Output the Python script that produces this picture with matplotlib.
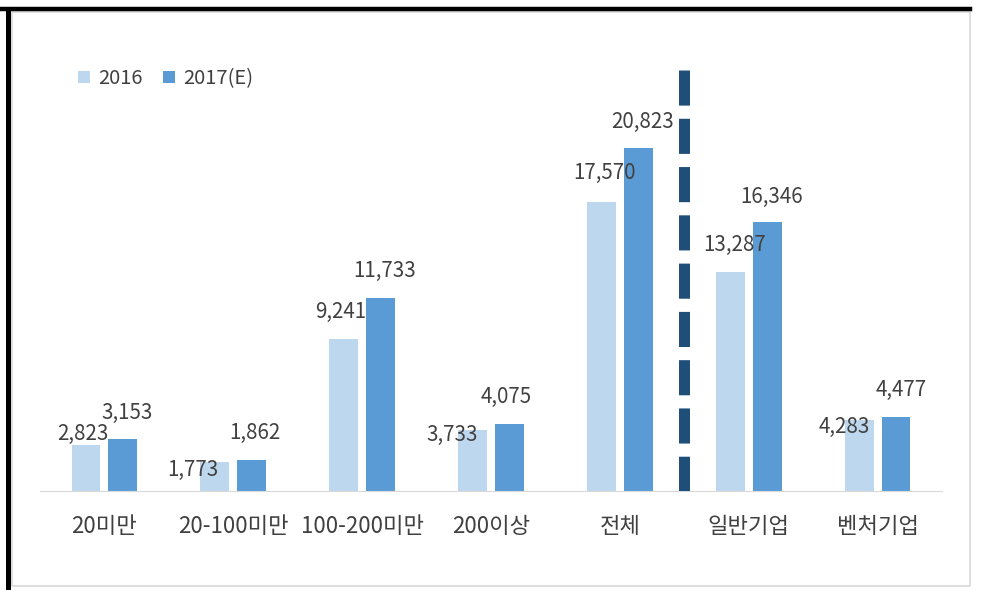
import matplotlib.pyplot as plt
from matplotlib.lines import Line2D
from matplotlib.patches import Rectangle
import numpy as np

plt.rcParams['font.family'] = ['Noto Sans CJK KR', 'DejaVu Sans']

categories = ["20미만", "20-100미만", "100-200미만", "200이상", "전체", "일반기업", "벤처기업"]
vals_2016 = [2823, 1773, 9241, 3733, 17570, 13287, 4283]
vals_2017 = [3153, 1862, 11733, 4075, 20823, 16346, 4477]
series = ["2016", "2017(E)"]

# label offsets in pixels (dx, dy) from bar top centre, hand tuned
off_2016 = [(-3, 11), (-22, -8), (-3, 27), (-20, -5), (3, 29), (4, 27), (-15, -6)]
off_2017 = [(4, 26), (3, 27), (4, 27), (-3, 27), (4, 26), (4, 25), (5, 27)]

c16 = "#BDD7EE"
c17 = "#5B9BD5"
txt = "#404040"

W, H = 985, 590
fig = plt.figure(figsize=(W / 100, H / 100), dpi=100)
ax = fig.add_axes([40 / W, (H - 491) / H, 902 / W, 431 / H])

x = np.arange(len(categories))
bw = 0.225
off = 0.143
ax.bar(x - off, vals_2016, bw, color=c16, label=series[0], zorder=2)
ax.bar(x + off, vals_2017, bw, color=c17, label=series[1], zorder=2)

ax.set_xlim(-0.5, len(categories) - 0.5)
ax.set_ylim(0, 431 / 16.47 * 1000)

for i in range(len(categories)):
    for v, xo, (dx, dy) in [(vals_2016[i], -off, off_2016[i]), (vals_2017[i], off, off_2017[i])]:
        ax.annotate(f"{v:,}", (x[i] + xo, v), xytext=(dx * 0.72, dy * 0.72),
                    textcoords="offset points", ha="center", va="center",
                    fontsize=14.8, color=txt, zorder=3)

# dashed separator between 전체 and 일반기업
ax.plot([4.5, 4.5], [25560, 0], color="#1F4E79", lw=7.9,
        linestyle=(0, (3.2, 1.2)), solid_capstyle="butt", dash_capstyle="butt", zorder=4)

for s in ["top", "right", "left"]:
    ax.spines[s].set_visible(False)
ax.spines["bottom"].set_color("#D9D9D9")
ax.set_yticks([])
ax.set_xticks(x)
ax.set_xticklabels(categories, fontsize=16, color=txt)
ax.tick_params(axis="x", length=0, pad=17.5)

leg = ax.legend(loc="upper left", bbox_to_anchor=(20 / 902, 1.0 + 10 / 431), ncol=2, frameon=False,
                fontsize=14.5, handlelength=0.6, handleheight=0.6, handletextpad=0.4,
                columnspacing=1.0)
for t in leg.get_texts():
    t.set_color(txt)

# outer frame: thin gray inner border, thick black top/left
fig.add_artist(Rectangle((12 / W, (H - 586) / H), 958 / W, 574 / H, fill=False,
                         edgecolor="#D9D9D9", lw=1.2, transform=fig.transFigure))
fig.add_artist(Line2D([0, 970 / W], [(H - 9) / H] * 2, color="black", lw=3.2, transform=fig.transFigure))
fig.add_artist(Line2D([7.5 / W] * 2, [0, (H - 9) / H], color="black", lw=3.6, transform=fig.transFigure))

fig.savefig("out.png", dpi=100)
